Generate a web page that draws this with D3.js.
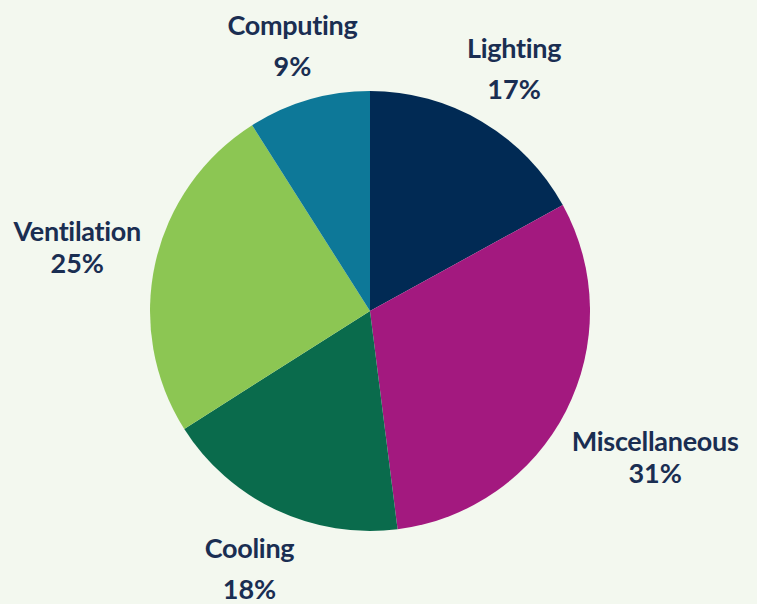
<!DOCTYPE html>
<html><head><meta charset="utf-8">
<script src="https://cdn.jsdelivr.net/npm/d3@7"></script>
<style>
html,body{margin:0;padding:0;background:#F3F8EF;}
svg{display:block;}
</style></head>
<body>
<svg id="chart" width="757" height="604"></svg>
<script>
const categories = ["Lighting", "Miscellaneous", "Cooling", "Ventilation", "Computing"];
const values = [17, 31, 18, 25, 9];
const colors = ["#012A54", "#A3197F", "#0A6B4C", "#8CC653", "#0D7898"];
const percentLabels = ["17%", "31%", "18%", "25%", "9%"];

const W = 757, H = 604;
const cx = 370, cy = 311, R = 220;
const labelDist = [283, 320, 283, 300, 278];

const svg = d3.select("#chart");
svg.append("rect").attr("width", W).attr("height", H).attr("fill", "#F3F8EF");

const data = categories.map((c, i) => ({name: c, value: values[i], color: colors[i], pct: percentLabels[i], i}));
const pie = d3.pie().value(d => d.value).sort(null);
const arc = d3.arc().innerRadius(0).outerRadius(R);
const arcs = pie(data);

const g = svg.append("g").attr("transform", `translate(${cx},${cy})`);
g.selectAll("path").data(arcs).enter().append("path")
  .attr("d", arc).attr("fill", d => d.data.color);

const font = "'Lato', 'DejaVu Sans', sans-serif";
arcs.forEach(a => {
  const mid = (a.startAngle + a.endAngle) / 2;
  const r = labelDist[a.data.i];
  const x = Math.sin(mid) * r;
  const y = -Math.cos(mid) * r;
  const vertical = Math.abs(Math.cos(mid)) > 0.7;
  const spacing = vertical ? 41 : 32;
  const cap = 22;
  const b1 = y - (spacing + cap) / 2 + cap;
  const t = g.append("g").attr("font-family", font).attr("font-weight", 700)
    .attr("fill", "#1A2E52").attr("text-anchor", "middle");
  t.append("text").attr("x", x).attr("y", b1).attr("font-size", 27)
    .attr("letter-spacing", -0.3).text(a.data.name);
  t.append("text").attr("x", x).attr("y", b1 + spacing).attr("font-size", 27)
    .text(a.data.pct);
});
</script>
</body></html>
